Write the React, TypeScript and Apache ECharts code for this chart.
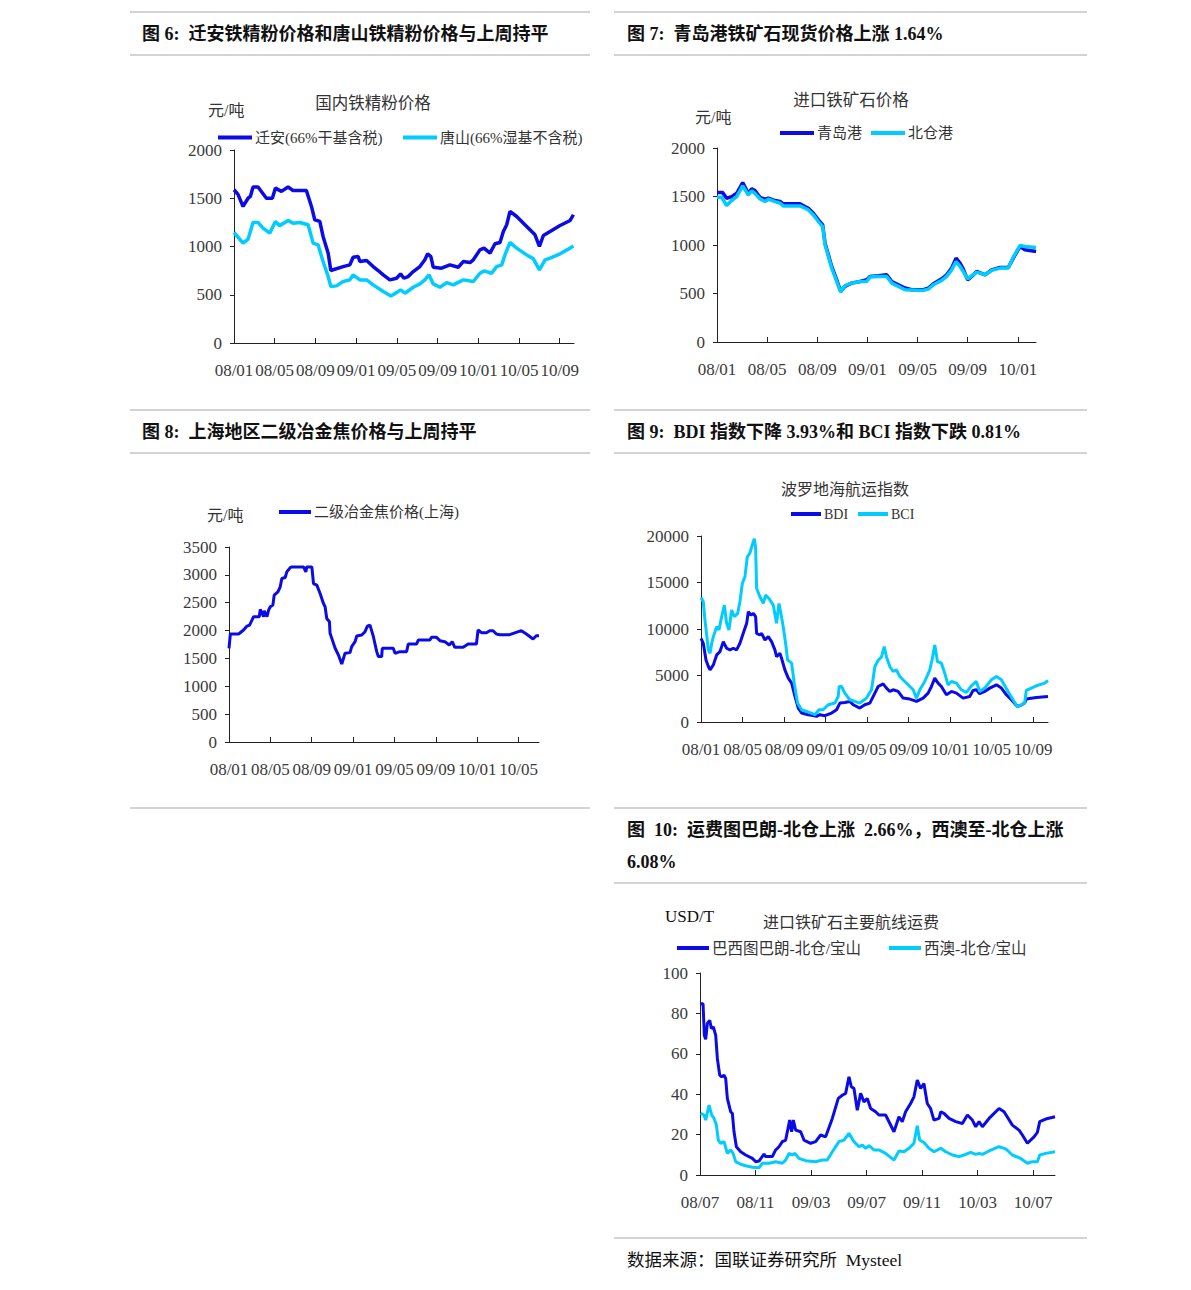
import React, { useEffect, useRef } from "react";
import * as echarts from "echarts";

// x values = months since the first tick of each chart, y = value

// 图6 国内铁精粉价格 (origin 2008/01)
const qianAn: [number, number][] = [[0,1588],[0.39,1540],[0.89,1415],[1.38,1500],[1.61,1519],[1.87,1616],[2.36,1616],[3.18,1500],[3.77,1500],[4.07,1605],[4.66,1571],[5.31,1616],[5.8,1581],[7.11,1581],[7.61,1415],[7.93,1277],[8.43,1260],[8.75,1104],[9.25,931],[9.51,751],[10.72,792],[11.38,810],[11.7,889],[12.2,896],[12.36,844],[13.02,855],[13.67,792],[14.16,751],[14.66,706],[15.31,654],[15.97,671],[16.36,716],[16.69,671],[17.11,689],[17.61,740],[18.26,792],[18.75,862],[19.02,924],[19.34,896],[19.57,785],[20.39,775],[21.21,810],[22.03,785],[22.52,844],[23.18,834],[23.51,862],[24.16,965],[24.56,983],[25.15,931],[25.64,1028],[26.13,1042],[26.46,1156],[26.79,1225],[27.11,1363],[27.77,1311],[28.75,1208],[29.57,1121],[30.0,1000],[30.39,1114],[31.05,1156],[32.03,1218],[33.02,1270],[33.34,1329]];
const tangShan: [number, number][] = [[0,1145],[0.89,1035],[1.38,1076],[1.87,1249],[2.36,1249],[2.85,1190],[3.51,1138],[4.07,1260],[4.49,1215],[5.31,1270],[5.8,1242],[6.46,1249],[7.28,1225],[7.77,1035],[8.26,1017],[8.75,844],[9.25,689],[9.51,585],[10.07,592],[10.72,637],[11.38,654],[11.7,706],[12.36,654],[13.02,654],[13.67,602],[14.66,533],[15.41,488],[15.97,522],[16.36,550],[16.79,516],[17.61,578],[18.26,612],[18.75,654],[19.15,706],[19.57,612],[20.23,578],[20.89,626],[21.54,602],[22.52,654],[23.51,637],[24.16,723],[24.56,747],[25.31,723],[25.8,792],[26.3,810],[26.62,913],[27.11,1042],[27.77,983],[28.75,913],[29.41,872],[30.0,758],[30.56,862],[31.05,879],[32.03,924],[33.02,983],[33.34,1007]];

// 图7 进口铁矿石价格 (origin 2008/01)
const qingdao: [number, number][] = [[0,1540],[0.45,1540],[0.77,1482],[1.17,1499],[1.57,1533],[2.05,1643],[2.5,1533],[2.77,1578],[3.03,1561],[3.43,1492],[3.83,1472],[4.1,1482],[4.63,1458],[5.03,1448],[5.29,1424],[6.62,1424],[7.02,1396],[7.29,1379],[7.69,1328],[8.09,1259],[8.43,1208],[8.62,1019],[9.15,779],[9.55,641],[9.87,521],[10.21,573],[10.74,607],[11.41,624],[11.94,641],[12.21,676],[12.87,683],[13.54,693],[13.94,624],[14.47,590],[15.0,556],[15.53,539],[16.46,539],[16.86,556],[17.26,600],[17.93,652],[18.32,693],[18.72,762],[19.07,865],[19.39,813],[19.65,751],[20.0,641],[20.32,676],[20.72,727],[21.38,693],[21.91,744],[22.58,768],[23.24,768],[23.64,865],[24.18,985],[24.57,950],[25.45,933]];
const beilun: [number, number][] = [[0,1492],[0.37,1492],[0.77,1407],[1.17,1458],[1.57,1499],[2.05,1609],[2.5,1516],[2.77,1557],[3.03,1533],[3.43,1475],[3.83,1448],[4.1,1472],[4.63,1448],[5.03,1431],[5.29,1403],[6.62,1403],[7.02,1379],[7.29,1362],[7.69,1310],[8.09,1242],[8.43,1190],[8.62,1002],[9.15,762],[9.55,624],[9.87,515],[10.21,580],[10.74,607],[11.41,624],[11.94,624],[12.21,669],[12.87,676],[13.54,676],[13.94,607],[14.47,573],[15.0,539],[16.46,532],[16.86,545],[17.26,590],[17.93,635],[18.32,676],[18.72,744],[19.07,830],[19.39,779],[19.65,727],[20.0,652],[20.32,683],[20.72,720],[21.38,693],[21.91,738],[22.58,762],[23.24,762],[23.64,875],[24.18,995],[24.57,985],[25.45,974]];

// 图8 二级冶金焦价格(上海) (origin 2008/01)
const coke: [number, number][] = [[0,1682],[0.13,1938],[0.93,1938],[1.41,2010],[1.74,2081],[1.99,2099],[2.22,2188],[2.38,2248],[2.93,2248],[3.02,2379],[3.34,2248],[3.41,2355],[3.67,2248],[3.83,2367],[3.99,2427],[4.24,2457],[4.37,2636],[4.73,2695],[4.95,2785],[5.11,2934],[5.43,2952],[5.59,3053],[5.92,3131],[6.08,3143],[7.2,3143],[7.43,3053],[7.52,3143],[8.01,3143],[8.17,2844],[8.49,2815],[8.81,2665],[9.13,2487],[9.29,2427],[9.45,2218],[9.71,2159],[9.77,1950],[9.94,1860],[10.26,1682],[10.58,1562],[10.9,1401],[11.22,1592],[11.7,1604],[11.86,1711],[12.19,1801],[12.35,1902],[12.83,1920],[13.15,1980],[13.38,2081],[13.63,2099],[13.96,1890],[14.28,1622],[14.44,1533],[14.76,1533],[14.82,1682],[15.88,1682],[16.05,1592],[16.53,1622],[17.17,1622],[17.33,1759],[18.14,1759],[18.3,1831],[19.42,1831],[19.58,1878],[20.06,1878],[20.39,1819],[20.87,1801],[21.29,1741],[21.58,1801],[21.83,1700],[22.64,1700],[23.12,1759],[23.92,1759],[24.08,2010],[24.41,1962],[24.89,1962],[25.21,1998],[25.53,1998],[25.85,1938],[26.17,1926],[27.14,1926],[28.26,1998],[28.75,1938],[29.39,1849],[29.71,1908],[29.97,1908]];

// 图9 波罗地海航运指数 (origin 2008/01)
const bdi: [number, number][] = [[0,9000],[0.22,8464],[0.48,6679],[0.71,5964],[0.87,5607],[1.19,6143],[1.51,7214],[1.83,7571],[2.15,8643],[2.47,7929],[2.79,7750],[3.11,7929],[3.43,7750],[3.75,8464],[4.07,9536],[4.4,10607],[4.56,11857],[4.81,11500],[5.04,11679],[5.26,11321],[5.36,9536],[5.68,9357],[5.84,9536],[6.16,8821],[6.48,9179],[6.8,8643],[7.12,7750],[7.28,7036],[7.6,7393],[7.76,6857],[8.08,5607],[8.41,4714],[8.73,4179],[9.05,2750],[9.37,1500],[9.69,964],[10.33,786],[10.65,714],[11.13,607],[11.45,786],[11.93,679],[12.58,964],[13.06,1321],[13.38,2036],[13.86,2107],[14.34,2214],[14.66,1857],[15.3,1500],[15.78,1857],[16.27,2036],[16.75,3107],[17.07,3821],[17.55,4107],[17.87,3643],[18.19,3286],[18.51,3464],[18.99,3286],[19.47,2571],[20.12,2464],[20.76,2214],[21.4,2571],[21.88,3107],[22.2,3821],[22.52,4714],[22.84,4179],[23.16,3821],[23.64,2929],[24.13,3286],[24.61,3107],[25.25,2571],[25.89,2750],[26.21,3393],[26.53,3464],[26.85,3036],[27.33,3286],[27.82,3643],[28.46,4000],[28.94,3643],[29.42,2929],[29.9,2393],[30.48,1679],[30.86,1821],[31.18,2036],[31.34,2464],[32.31,2643],[33.43,2750]];
const bci: [number, number][] = [[0,13393],[0.22,12929],[0.38,10964],[0.71,7750],[0.87,7393],[1.03,8464],[1.19,9179],[1.51,10250],[1.73,9893],[1.99,11321],[2.25,12571],[2.47,10607],[2.69,9893],[2.95,12036],[3.21,11321],[3.53,11679],[3.75,12929],[3.98,14893],[4.23,15607],[4.46,17750],[4.72,18179],[4.88,18821],[5.13,19714],[5.26,18821],[5.36,14357],[5.68,13464],[6.0,12750],[6.22,13643],[6.54,13286],[6.96,12571],[7.28,10607],[7.51,12750],[7.7,11679],[7.92,10250],[8.15,8464],[8.34,6679],[8.73,6321],[8.98,4179],[9.3,2036],[9.69,1321],[10.17,1143],[10.97,786],[11.36,1321],[11.77,1321],[12.26,1857],[12.9,2036],[13.22,2750],[13.31,3821],[13.54,3821],[13.86,3107],[14.34,2393],[14.82,2214],[15.3,2036],[15.94,2571],[16.43,3464],[16.75,5964],[17.07,6643],[17.39,7000],[17.65,8107],[17.87,7000],[18.19,5964],[18.51,5429],[18.83,5607],[19.15,4893],[19.63,4357],[20.44,3464],[20.76,2571],[21.08,3464],[21.56,4357],[22.04,5607],[22.26,6679],[22.52,8286],[22.78,6500],[23.16,6321],[23.48,5250],[23.8,4000],[24.13,4357],[24.61,4179],[25.09,3464],[25.57,3179],[26.05,3893],[26.53,4357],[26.85,3286],[27.33,3643],[27.98,4536],[28.46,4893],[28.94,4536],[29.58,3286],[30.06,2393],[30.48,1607],[30.86,1857],[31.18,2036],[31.34,3393],[32.31,3893],[33.11,4179],[33.43,4464]];

// 图10 进口铁矿石主要航线运费 (origin 2008/07)
const brazil: [number, number][] = [[0.05,84.8],[0.22,84.8],[0.31,69.2],[0.41,67.2],[0.53,75],[0.7,76.6],[0.82,72.5],[0.96,73.3],[1.13,69.2],[1.25,57.7],[1.42,49.4],[1.56,48.6],[1.73,49.4],[1.85,47.8],[1.97,37.9],[2.21,31.3],[2.33,30.5],[2.45,21.4],[2.62,14],[2.93,11.5],[3.29,9.9],[3.77,8.2],[4.01,6.6],[4.25,6.9],[4.61,10.4],[4.73,9.1],[5.21,9.1],[5.45,12.4],[5.69,14],[5.93,16.5],[6.17,17.3],[6.34,23.1],[6.46,27.2],[6.6,21.4],[6.72,27.2],[6.89,22.2],[7.25,21.4],[7.49,17.3],[7.97,15.7],[8.33,16.5],[8.69,19.8],[9.05,18.9],[9.53,28],[9.96,37.9],[10.25,39.5],[10.49,40.4],[10.61,44.5],[10.73,48.6],[10.9,43.7],[11.09,42.8],[11.33,32.1],[11.57,40.4],[11.81,36.2],[12.05,37.9],[12.29,32.9],[12.65,31.3],[12.89,29.7],[13.37,29.7],[13.97,21.4],[14.33,28.8],[14.57,26.4],[14.81,31.3],[15.17,35.4],[15.41,38.7],[15.65,47],[15.89,42.8],[16.13,45.3],[16.37,35.4],[16.61,32.9],[16.85,27.2],[17.22,28],[17.34,31.3],[17.57,30.5],[17.94,28],[18.42,26.4],[18.9,25.5],[19.26,29.7],[19.62,27.2],[19.86,23.9],[20.1,26.4],[20.34,23.9],[20.82,28],[21.54,32.9],[21.9,31.3],[22.5,24.7],[22.98,22.2],[23.22,19.8],[23.58,15.7],[24.06,18.9],[24.3,21.1],[24.47,26.4],[24.9,27.7],[25.57,28.8]];
const westAus: [number, number][] = [[0.05,30.5],[0.29,29.7],[0.41,27.2],[0.65,34.6],[0.84,29.7],[1.01,28],[1.18,24.7],[1.32,17.3],[1.49,15.7],[1.73,16.5],[1.97,10.7],[2.21,12.4],[2.38,10.7],[2.57,6.6],[2.93,5.3],[3.29,4.6],[3.77,3.8],[4.25,3.6],[4.49,5.8],[4.97,5.8],[5.45,6.6],[5.93,5.8],[6.17,7.4],[6.41,10.7],[6.65,9.9],[6.84,10.7],[7.13,8.2],[7.61,7.1],[8.33,6.6],[8.81,7.4],[9.17,7.4],[9.53,11.5],[10.01,16.5],[10.37,17.3],[10.73,20.6],[11.09,16.5],[11.45,14],[11.69,14.8],[11.93,13.2],[12.17,14.5],[12.53,12.4],[12.89,12.4],[13.37,10.7],[13.97,7.4],[14.33,11.9],[14.69,11.5],[15.05,13.2],[15.41,15.7],[15.65,24.4],[15.82,17.3],[16.13,16.1],[16.49,13.2],[16.85,11.5],[17.34,13.2],[17.7,11.5],[18.18,9.9],[18.66,9.1],[19.02,9.9],[19.5,11.2],[19.86,10.2],[20.1,10.7],[20.34,10.2],[20.82,11.9],[21.54,14],[22.02,12.9],[22.5,9.9],[23.1,8.2],[23.58,5.8],[23.94,6.6],[24.3,6.6],[24.47,9.9],[24.9,10.7],[25.57,11.5]];

const seriesNames = {
  qianAn: "迁安(66%干基含税)",
  tangShan: "唐山(66%湿基不含税)",
  qingdao: "青岛港",
  beilun: "北仓港",
  coke: "二级冶金焦价格(上海)",
  bdi: "BDI",
  bci: "BCI",
  brazil: "巴西图巴朗-北仓/宝山",
  westAus: "西澳-北仓/宝山",
};

const headers = [
  "图 6:  迁安铁精粉价格和唐山铁精粉价格与上周持平",
  "图 7:  青岛港铁矿石现货价格上涨 1.64%",
  "图 8:  上海地区二级冶金焦价格与上周持平",
  "图 9:  BDI 指数下降 3.93%和 BCI 指数下跌 0.81%",
  "图  10:  运费图巴朗-北仓上涨  2.66%，西澳至-北仓上涨",
  "6.08%",
];
const sourceNote = "数据来源：国联证券研究所  Mysteel";

const BLUE = "#0b0be8";
const CYAN = "#00ccff";
const SERIF = '"Liberation Serif", "Noto Sans CJK SC", serif';
const CJK = '"Liberation Serif", "Noto Sans CJK SC", sans-serif';
const HEAD = '"Liberation Serif", "Noto Sans CJK SC", serif';

type Panel = {
  left: number; top: number; width: number; height: number;
  origin: number; xMax: number; yMax: number; yInterval: number;
};

const panels: Panel[] = [
  { left: 234, top: 150, width: 340, height: 193, origin: 0, xMax: 33.4, yMax: 2000, yInterval: 500 },
  { left: 717, top: 148, width: 319, height: 194, origin: 0, xMax: 25.45, yMax: 2000, yInterval: 500 },
  { left: 229, top: 547, width: 310, height: 195, origin: 0, xMax: 29.97, yMax: 3500, yInterval: 500 },
  { left: 701, top: 536, width: 347, height: 186, origin: 0, xMax: 33.43, yMax: 20000, yInterval: 5000 },
  { left: 700, top: 973, width: 355, height: 202, origin: 6, xMax: 25.57, yMax: 100, yInterval: 20 },
];

function pad(n: number) { return n < 10 ? "0" + n : String(n); }

function monthLabel(origin: number, v: number) {
  if (Math.abs(v / 4 - Math.round(v / 4)) > 1e-6) return "";
  const t = origin + Math.round(v);
  const yy = 8 + Math.floor(t / 12);
  const mm = (t % 12) + 1;
  return pad(yy) + "/" + pad(mm);
}

function tickValues(max: number) {
  const out: number[] = [];
  for (let v = 0; v <= max + 1e-6; v += 4) out.push(v);
  return out;
}

function buildOption() {
  const grid = panels.map((p) => ({
    left: p.left, top: p.top, width: p.width, height: p.height,
    containLabel: false, outerBoundsMode: "none",
  }));
  const xAxis = panels.map((p, i) => ({
    gridIndex: i, type: "value", min: 0, max: p.xMax, interval: 4,
    axisLine: { show: true, onZero: false, lineStyle: { color: "#222", width: 1 } },
    axisTick: { show: true, inside: true, length: 5, customValues: tickValues(p.xMax), lineStyle: { color: "#222" } },
    axisLabel: {
      customValues: tickValues(p.xMax),
      formatter: (v: number) => monthLabel(p.origin, v),
      fontFamily: SERIF, fontSize: 17, color: "#3a3a3a", margin: 19,
    },
    splitLine: { show: false },
  }));
  const yAxis = panels.map((p, i) => ({
    gridIndex: i, type: "value", min: 0, max: p.yMax, interval: p.yInterval,
    axisLine: { show: true, lineStyle: { color: "#222", width: 1 } },
    axisTick: { show: true, inside: false, length: 4, lineStyle: { color: "#222" } },
    axisLabel: {
      formatter: (v: number) => String(v),
      fontFamily: SERIF, fontSize: 17, color: "#3a3a3a", margin: 12,
    },
    splitLine: { show: false },
  }));

  const line = (name: string, data: [number, number][], idx: number, color: string, width = 3) => ({
    type: "line", name, data, xAxisIndex: idx, yAxisIndex: idx,
    showSymbol: false, symbol: "none", smooth: false,
    lineStyle: { color, width }, itemStyle: { color },
    emphasis: { disabled: true },
  });

  const series = [
    line(seriesNames.qianAn, qianAn, 0, BLUE, 3.5),
    line(seriesNames.tangShan, tangShan, 0, CYAN, 3.5),
    line(seriesNames.qingdao, qingdao, 1, BLUE, 3.5),
    line(seriesNames.beilun, beilun, 1, CYAN, 3.5),
    line(seriesNames.coke, coke, 2, BLUE, 3),
    line(seriesNames.bdi, bdi, 3, BLUE, 3),
    line(seriesNames.bci, bci, 3, CYAN, 3),
    line(seriesNames.brazil, brazil, 4, BLUE, 3),
    line(seriesNames.westAus, westAus, 4, CYAN, 3),
  ];

  const leg = (name: string, left: number, cy: number, w: number, fontFamily = CJK, size = 15) => ({
    show: true, data: [name], left, top: cy - size / 2, padding: 0, itemGap: 0,
    icon: "rect", itemWidth: w, itemHeight: 4, selectedMode: false,
    textStyle: { fontFamily, fontSize: size, color: "#333", padding: [0, 0, 0, -2] },
  });
  const legend = [
    leg(seriesNames.qianAn, 218, 137.5, 34),
    leg(seriesNames.tangShan, 403, 137.5, 34),
    leg(seriesNames.qingdao, 780, 133, 34),
    leg(seriesNames.beilun, 871, 133, 34),
    leg(seriesNames.coke, 279, 512, 32),
    leg(seriesNames.bdi, 791, 514, 30, SERIF, 14),
    leg(seriesNames.bci, 858, 514, 30, SERIF, 14),
    leg(seriesNames.brazil, 677, 948, 32, CJK, 15.5),
    leg(seriesNames.westAus, 889, 948, 32, CJK, 15.5),
  ];

  const hLine = (x1: number, x2: number, y: number) => ({
    type: "line", silent: true,
    shape: { x1, y1: y, x2, y2: y },
    style: { stroke: "#c4c4c4", lineWidth: 1.5 },
  });
  const txt = (x: number, y: number, text: string, size: number, family: string, align = "left", weight = "normal", fill = "#333") => ({
    type: "text", silent: true, x, y,
    style: {
      text, fill, fontSize: size, fontFamily: family, fontWeight: weight,
      textAlign: align, textVerticalAlign: "middle",
    },
  });

  const graphic = [
    hLine(130, 590, 12), hLine(614, 1087, 12),
    hLine(130, 590, 55), hLine(614, 1087, 55),
    hLine(130, 590, 410), hLine(614, 1087, 410),
    hLine(130, 590, 453), hLine(614, 1087, 453),
    hLine(130, 590, 808), hLine(614, 1087, 808),
    hLine(614, 1087, 883),
    hLine(614, 1087, 1238),
    txt(142, 34, headers[0], 18, HEAD, "left", "bold", "#111"),
    txt(627, 34, headers[1], 18, HEAD, "left", "bold", "#111"),
    txt(142, 432, headers[2], 18, HEAD, "left", "bold", "#111"),
    txt(627, 432, headers[3], 18, HEAD, "left", "bold", "#111"),
    txt(627, 830, headers[4], 18, HEAD, "left", "bold", "#111"),
    txt(627, 862, headers[5], 18, HEAD, "left", "bold", "#111"),
    txt(627, 1260, sourceNote, 17.5, HEAD, "left", "normal", "#111"),
    // chart titles and units
    txt(373, 103, "国内铁精粉价格", 16.5, CJK, "center"),
    txt(208, 110, "元/吨", 16, CJK),
    txt(851, 100, "进口铁矿石价格", 16.5, CJK, "center"),
    txt(695, 117, "元/吨", 16, CJK),
    txt(207, 515, "元/吨", 16, CJK),
    txt(845, 489, "波罗地海航运指数", 16, CJK, "center"),
    txt(665, 916, "USD/T", 17, SERIF, "left", "normal", "#111"),
    txt(851, 922, "进口铁矿石主要航线运费", 16, CJK, "center"),
  ];

  return {
    animation: false,
    backgroundColor: "#ffffff",
    grid, xAxis, yAxis, series, legend, graphic,
  };
}

export default function App() {
  const ref = useRef<HTMLDivElement>(null);
  useEffect(() => {
    if (!ref.current) return;
    const chart = echarts.init(ref.current, undefined, { renderer: "svg" });
    chart.setOption(buildOption() as any);
    return () => chart.dispose();
  }, []);
  return (
    <div
      ref={ref}
      style={{ position: "absolute", left: 0, top: 0, width: 1191, height: 1290, background: "#fff" }}
    />
  );
}
